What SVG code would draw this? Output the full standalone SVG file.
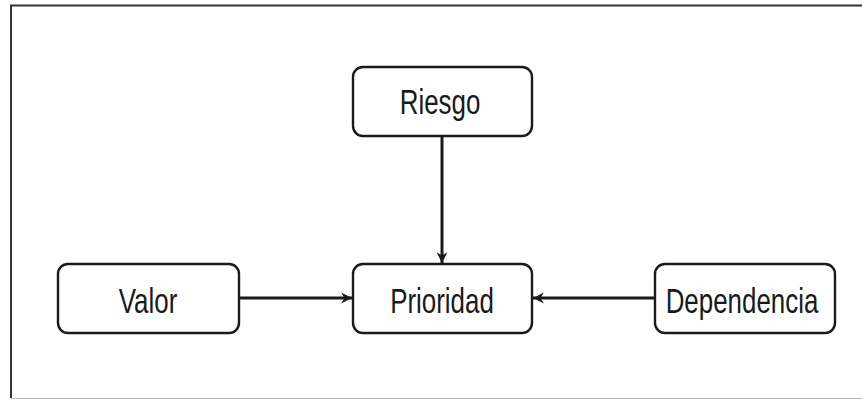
<svg xmlns="http://www.w3.org/2000/svg" width="862" height="400" viewBox="0 0 862 400">
  <defs>
    <style>
      .node rect { fill: #ffffff; stroke: #1a1a1a; stroke-width: 2.4; }
      .node text { font-family: "Liberation Sans", Arial, sans-serif; font-size: 36px; fill: #1a1a1a; text-anchor: middle; }
      .edge { stroke: #1a1a1a; stroke-width: 3; fill: none; }
    </style>
    <marker id="arrow" viewBox="0 0 12 12" refX="11" refY="6" markerWidth="13" markerHeight="13" markerUnits="userSpaceOnUse" orient="auto">
      <path d="M1,1 L11,6 L1,11 L4,6 Z" fill="#1a1a1a"/>
    </marker>
  </defs>

  <rect width="862" height="400" fill="#ffffff"/>

  <!-- outer frame -->
  <g id="frame">
    <line x1="10" y1="5.5" x2="862" y2="5.5" stroke="#333" stroke-width="2"/>
    <line x1="11" y1="5" x2="11" y2="398" stroke="#333" stroke-width="2"/>
    <line x1="11" y1="398.5" x2="862" y2="398.5" stroke="#bbb" stroke-width="1"/>
  </g>

  <!-- connectors -->
  <g id="connectors">
    <line class="edge" x1="442" y1="137" x2="442" y2="263" marker-end="url(#arrow)"/>
    <line class="edge" x1="240" y1="298" x2="352" y2="298" marker-end="url(#arrow)"/>
    <line class="edge" x1="655" y1="298" x2="533" y2="298" marker-end="url(#arrow)"/>
  </g>

  <!-- labels use a horizontally condensed face -->
  <g id="riesgo" class="node">
    <rect x="353" y="67" width="179" height="69" rx="10"/>
    <text transform="translate(440 114) scale(0.72 1)">Riesgo</text>
  </g>

  <g id="valor" class="node">
    <rect x="58" y="264" width="181" height="69" rx="10"/>
    <text transform="translate(148 313) scale(0.72 1)">Valor</text>
  </g>

  <g id="prioridad" class="node">
    <rect x="353" y="264" width="179" height="69" rx="10"/>
    <text transform="translate(442 313) scale(0.72 1)">Prioridad</text>
  </g>

  <g id="dependencia" class="node">
    <rect x="655" y="264" width="180" height="69" rx="10"/>
    <text transform="translate(742 313) scale(0.72 1)">Dependencia</text>
  </g>
</svg>
